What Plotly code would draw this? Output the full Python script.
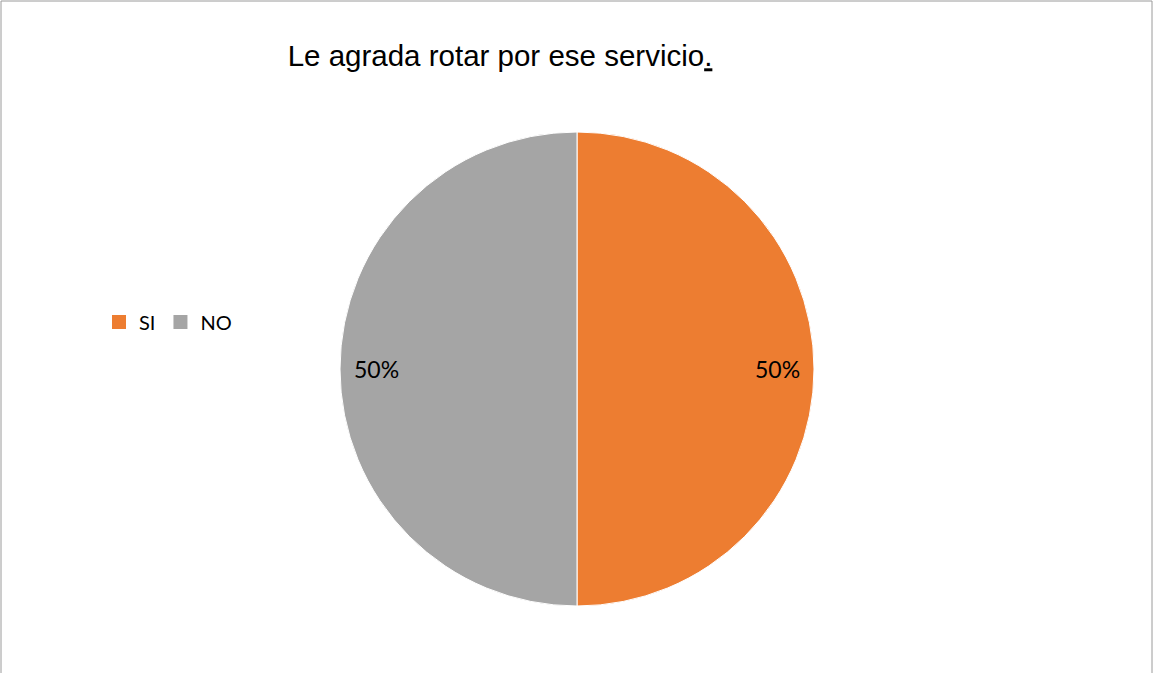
import math
import plotly.graph_objects as go

labels = ['SI', 'NO']
values = [50, 50]
colors = ['#ED7D31', '#A5A5A5']
title = 'Le agrada rotar por ese servicio<u>.</u>'

W, H = 1153, 673

# pie geometry (pixels) -> domain
cx, cy, r = 577, 369, 237
dom_x = [(cx - r) / W, (cx + r) / W]
dom_y = [1 - (cy + r) / H, 1 - (cy - r) / H]

fig = go.Figure(data=[go.Pie(
    labels=labels,
    values=values,
    sort=False,
    direction='clockwise',
    rotation=0,
    marker=dict(colors=colors, line=dict(color='white', width=1)),
    textinfo='none',
    domain=dict(x=dom_x, y=dom_y),
    hoverinfo='label+percent',
    showlegend=False,
)])

# legend entries with Excel-sized square keys
for lab, col in zip(labels, colors):
    fig.add_trace(go.Scatter(x=[None], y=[None], mode='markers', name=lab,
                             marker=dict(symbol='square', size=14, color=col),
                             hoverinfo='skip'))

# percentage labels placed near the rim like Excel's "best fit"
total = sum(values)
cum = 0
for v in values:
    mid = (cum + v / 2) / total * 2 * math.pi
    cum += v
    lx = cx + 0.845 * r * math.sin(mid)
    ly = cy - 0.845 * r * math.cos(mid)
    fig.add_annotation(x=lx / W, y=1 - ly / H, xref='paper', yref='paper',
                       text=f'{v / total * 100:.0f}%', showarrow=False,
                       xanchor='center', yanchor='middle',
                       font=dict(family='Lato', size=23, color='black'))

fig.update_layout(
    width=W, height=H,
    margin=dict(l=0, r=0, t=0, b=0),
    paper_bgcolor='white',
    plot_bgcolor='white',
    xaxis=dict(visible=False),
    yaxis=dict(visible=False),
    title=dict(text=title, x=500 / W, xanchor='center', y=1 - 56 / H, yanchor='middle',
               font=dict(family='Liberation Sans, Arial', size=29.5, color='black')),
    legend=dict(orientation='h', x=99 / W, xanchor='left', y=1 - 322 / H, yanchor='middle',
                font=dict(family='Lato', size=20, color='black')),
    showlegend=True,
)

# thin grey frame (top, left, right)
for x0, y0, x1, y1 in [(0, 1, 1, 1), (0, 0, 0, 1), (1, 0, 1, 1)]:
    fig.add_shape(type='line', xref='paper', yref='paper',
                  x0=min(max(x0, 1 / W), 1 - 1 / W), x1=min(max(x1, 1 / W), 1 - 1 / W),
                  y0=min(y0, 1 - 1 / H), y1=min(y1, 1 - 1 / H),
                  line=dict(color='#9a9a9a', width=1))

fig.write_html('out.html', config={'displayModeBar': False},
               post_script="document.body.style.margin='0';")
